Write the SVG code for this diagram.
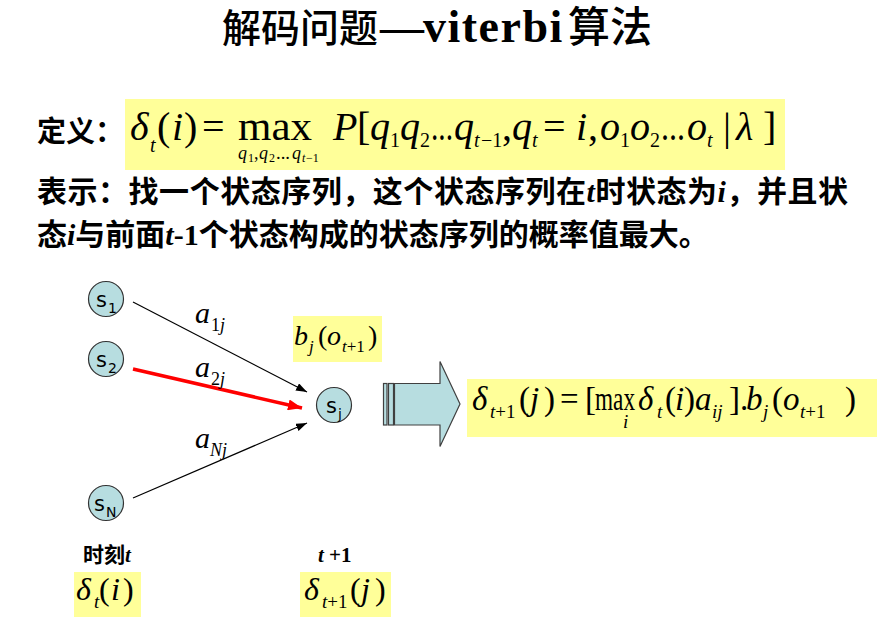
<svg xmlns="http://www.w3.org/2000/svg" width="879" height="622" viewBox="0 0 879 622">
<style>
.m{font-family:"Liberation Serif","Times New Roman",serif;fill:#000}
.i{font-style:italic}
.zh{font-family:"Liberation Serif","Noto Sans CJK SC",sans-serif;font-weight:bold;fill:#000}
.hl{fill:#ffff99}
.node circle{fill:#b7dde0;stroke:#333;stroke-width:1.2}
.node text{font-family:"DejaVu Sans",Verdana,sans-serif;fill:#000}
.conn{stroke:#000;stroke-width:1.2;fill:none}
.red{stroke:#ff0000;stroke-width:3.5;fill:none}
.blk{fill:#b7dde0;stroke:#404040;stroke-width:1.2}
</style>
<defs>
<marker id="ah" markerUnits="userSpaceOnUse" markerWidth="11" markerHeight="8" refX="11" refY="4" orient="auto">
<path d="M0,0 L11,4 L0,8 z" fill="#000"/>
</marker>
<marker id="ahr" markerUnits="userSpaceOnUse" markerWidth="14" markerHeight="11" refX="14" refY="5.5" orient="auto">
<path d="M0,0 L14,5.5 L0,11 z" fill="#ff0000"/>
</marker>
</defs>
<rect width="879" height="622" fill="#fff"/>

<g id="title">
<text y="42" font-size="39" font-family="Noto Sans CJK SC,sans-serif" font-weight="500"><tspan x="222">解码问题</tspan><tspan x="380" font-family="Liberation Serif,serif" font-weight="bold" font-size="44">—</tspan><tspan x="423" font-family="Liberation Serif,serif" font-weight="bold" font-size="46" letter-spacing="1.5">viterbi</tspan><tspan x="568" font-size="42">算法</tspan></text>
</g>

<g id="definition">
<text class="zh" x="37" y="142" font-size="29">定义：</text>
<rect class="hl" x="125" y="99" width="660" height="71"/>
<text class="m" font-size="40" y="140"><tspan class="i" x="130">δ</tspan><tspan class="i" x="150" y="152" font-size="20">t</tspan><tspan x="157" y="140">(</tspan><tspan class="i" x="172">i</tspan><tspan x="184">)</tspan><tspan x="202">=</tspan><tspan x="238" textLength="74" lengthAdjust="spacingAndGlyphs">max</tspan><tspan class="i" x="333">P</tspan><tspan x="357">[</tspan><tspan class="i" x="370">q</tspan><tspan x="390" y="147" font-size="20">1</tspan><tspan class="i" x="400" y="140">q</tspan><tspan x="420" y="147" font-size="20">2</tspan><tspan x="431" y="140" textLength="22" lengthAdjust="spacingAndGlyphs">...</tspan><tspan class="i" x="454">q</tspan><tspan class="i" x="474" y="147" font-size="20">t</tspan><tspan x="481" y="147" font-size="20">−1</tspan><tspan x="502" y="140">,</tspan><tspan class="i" x="512">q</tspan><tspan class="i" x="532" y="147" font-size="20">t</tspan><tspan x="543" y="140">=</tspan><tspan class="i" x="576">i</tspan><tspan x="588">,</tspan><tspan class="i" x="600">o</tspan><tspan x="620" y="147" font-size="20">1</tspan><tspan class="i" x="630" y="140">o</tspan><tspan x="650" y="147" font-size="20">2</tspan><tspan x="661" y="140" textLength="24" lengthAdjust="spacingAndGlyphs">...</tspan><tspan class="i" x="687">o</tspan><tspan class="i" x="707" y="147" font-size="20">t</tspan><tspan x="723" y="140">|</tspan><tspan class="i" x="736">λ</tspan><tspan x="763">]</tspan></text>
<text class="m" font-size="18" y="159"><tspan class="i" x="238">q</tspan><tspan x="248" y="162" font-size="12">1</tspan><tspan x="254" y="159">,</tspan><tspan class="i" x="259">q</tspan><tspan x="269" y="162" font-size="12">2</tspan><tspan x="276" y="159" textLength="14" lengthAdjust="spacingAndGlyphs">...</tspan><tspan class="i" x="292">q</tspan><tspan class="i" x="302" y="162" font-size="12">t</tspan><tspan x="306" y="162" font-size="12">−1</tspan></text>
</g>

<g id="description">
<text class="zh" x="37" y="202" font-size="30" textLength="811" lengthAdjust="spacing">表示：找一个状态序列，这个状态序列在<tspan class="i">t</tspan>时状态为<tspan class="i">i</tspan>，并且状</text>
<text class="zh" x="37" y="245" font-size="30">态<tspan class="i">i</tspan>与前面<tspan class="i">t</tspan>-1个状态构成的状态序列的概率值最大。</text>
</g>

<g id="connectors">
<line class="conn" x1="133" y1="302" x2="307" y2="392" marker-end="url(#ah)"/>
<line class="red" x1="133" y1="369" x2="302" y2="408" marker-end="url(#ahr)"/>
<line class="conn" x1="133" y1="498" x2="307" y2="423" marker-end="url(#ah)"/>
</g>

<g id="edge-labels" class="m">
<text font-size="30" y="323"><tspan class="i" x="195">a</tspan><tspan x="211" y="331" font-size="18">1</tspan><tspan class="i" font-size="18">j</tspan></text>
<text font-size="30" y="377"><tspan class="i" x="195">a</tspan><tspan x="211" y="385" font-size="18">2</tspan><tspan class="i" font-size="18">j</tspan></text>
<text font-size="30" y="448"><tspan class="i" x="195">a</tspan><tspan class="i" x="210" y="456" font-size="18">Nj</tspan></text>
</g>

<g id="s1" class="node">
<circle cx="106" cy="299" r="17.5"/>
<text x="96" y="307" font-size="21">s<tspan x="108" y="313" font-size="14">1</tspan></text>
</g>
<g id="s2" class="node">
<circle cx="106" cy="359" r="17.5"/>
<text x="96" y="367" font-size="21">s<tspan x="108" y="373" font-size="14">2</tspan></text>
</g>
<g id="sN" class="node">
<circle cx="106" cy="503" r="17.5"/>
<text x="94" y="511" font-size="21">s<tspan x="106" y="517" font-size="14">N</tspan></text>
</g>
<g id="sj" class="node">
<circle cx="334" cy="405" r="17.5"/>
<text x="326" y="413" font-size="21">s<tspan x="338" y="419" font-size="14">j</tspan></text>
</g>

<g id="emission">
<rect class="hl" x="293" y="316" width="89" height="46"/>
<text class="m" font-size="28" y="345"><tspan class="i" x="294">b</tspan><tspan class="i" x="309" y="352" font-size="17">j</tspan><tspan x="318" y="345">(</tspan><tspan class="i" x="327">o</tspan><tspan class="i" x="342" y="352" font-size="17">t</tspan><tspan font-size="17">+1</tspan><tspan x="368" y="345">)</tspan></text>
</g>

<g id="block-arrow">
<rect class="blk" x="383.5" y="383.5" width="3.5" height="41.5"/>
<rect class="blk" x="388.5" y="383.5" width="5" height="41.5"/>
<polygon class="blk" points="394.5,383.5 440,383.5 440,361.5 460,404 440,446.5 440,425 394.5,425"/>
</g>

<g id="recursion">
<rect class="hl" x="467" y="379" width="410" height="58"/>
<text class="m" font-size="33" y="410"><tspan class="i" x="472">δ</tspan><tspan class="i" x="490" y="418" font-size="19">t</tspan><tspan font-size="19">+1</tspan><tspan x="519" y="410">(</tspan><tspan class="i" x="530">j</tspan><tspan x="544">)</tspan><tspan x="560">=</tspan><tspan x="585">[</tspan><tspan x="595" textLength="40" lengthAdjust="spacingAndGlyphs">max</tspan><tspan class="i" x="638">δ</tspan><tspan class="i" x="657" y="418" font-size="19">t</tspan><tspan x="665" y="410">(</tspan><tspan class="i" x="675">i</tspan><tspan x="684">)</tspan><tspan class="i" x="695">a</tspan><tspan class="i" x="712" y="418" font-size="19">ij</tspan><tspan x="729" y="410">]</tspan><tspan x="740">.</tspan><tspan class="i" x="746">b</tspan><tspan class="i" x="763" y="418" font-size="19">j</tspan><tspan x="772" y="410">(</tspan><tspan class="i" x="783">o</tspan><tspan class="i" x="800" y="418" font-size="19">t</tspan><tspan font-size="19">+1</tspan><tspan x="845" y="410">)</tspan></text>
<text class="m i" x="623" y="428" font-size="19">i</text>
</g>

<g id="time-t">
<text class="zh" x="83" y="562" font-size="21">时刻<tspan class="i">t</tspan></text>
<rect class="hl" x="74" y="572" width="67" height="45"/>
<text class="m" font-size="32" y="600"><tspan class="i" x="76">δ</tspan><tspan class="i" x="94" y="608" font-size="19">t</tspan><tspan x="99" y="600">(</tspan><tspan class="i" x="111">i</tspan><tspan x="123">)</tspan></text>
</g>

<g id="time-t1">
<text class="zh" x="318" y="562" font-size="21"><tspan class="i">t</tspan> +1</text>
<rect class="hl" x="300" y="572" width="91" height="45"/>
<text class="m" font-size="32" y="600"><tspan class="i" x="304">δ</tspan><tspan class="i" x="322" y="608" font-size="19">t</tspan><tspan font-size="19">+1</tspan><tspan x="350" y="600">(</tspan><tspan class="i" x="361">j</tspan><tspan x="375">)</tspan></text>
</g>
</svg>
